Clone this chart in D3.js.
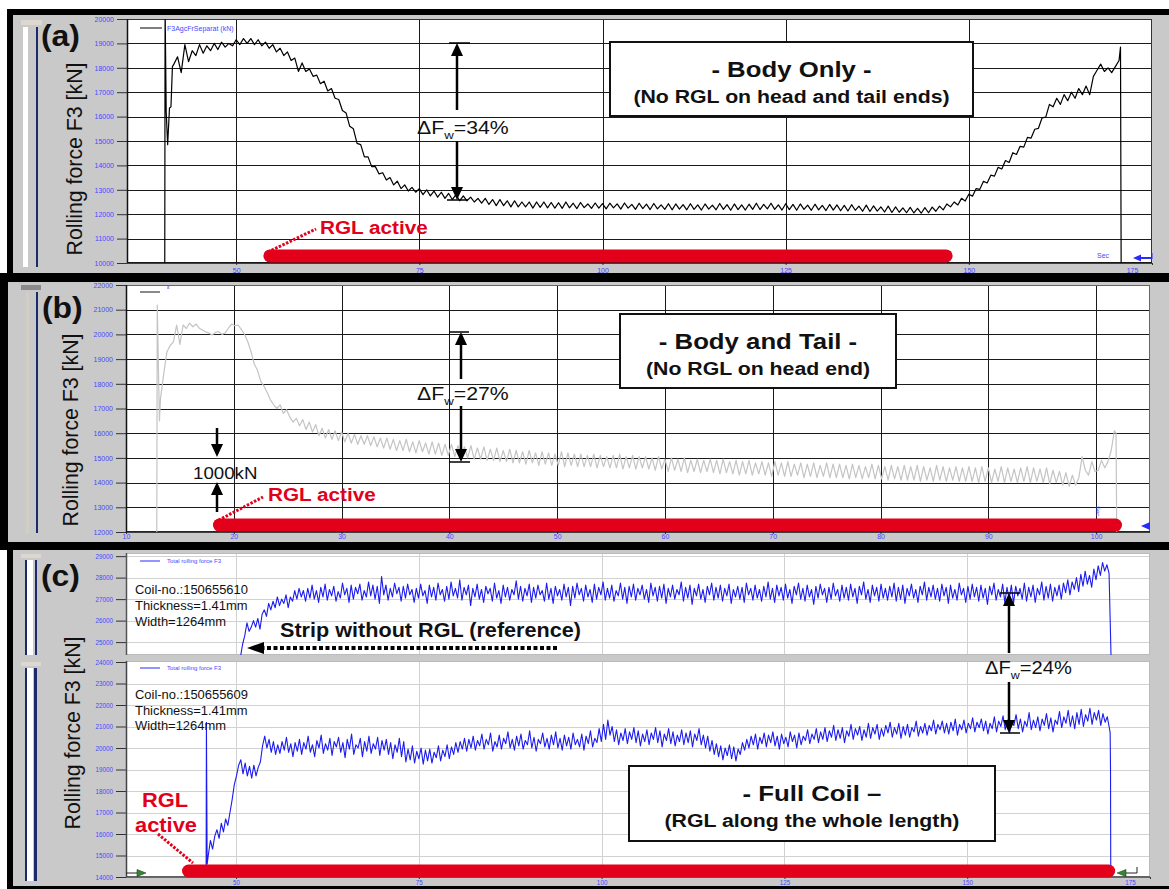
<!DOCTYPE html>
<html>
<head>
<meta charset="utf-8">
<title>Rolling force F3</title>
<script src="https://d3js.org/d3.v7.min.js"></script>
<style>
  body { margin: 0; background: #fff; }
  svg { display: block; }
  text { font-family: "Liberation Sans", Arial, Helvetica, sans-serif; }
</style>
</head>
<body>
<div id="fig"></div>
<script>
// ---------- data (time in s, force in kN) ----------

// (a) body only
const aHead = [[40.25, 9000], [40.3, 20500], [40.45, 16200], [40.65, 14850], [40.9, 16350], [41.1, 16400], [41.3, 18050]];
const aStart = 41.5, aStep = 0.5;
const aForce = [
  18150, 18450, 17800, 18950, 18250, 18700, 18500, 18950, 18600, 18900, 18700, 19000, 18750, 19050, 18850, 19000, 18900, 19150, 18950, 19200,
  19000, 19200, 18950, 19150, 18900, 19050, 18800, 18950, 18650, 18800, 18500, 18650, 18300, 18400, 17850, 18200, 17850, 17950, 17650, 17700,
  17350, 17450, 17050, 17150, 16750, 16700, 16250, 16150, 15600, 15500, 14900, 14850, 14350, 14350, 13950, 13950, 13650, 13700, 13400, 13500,
  13200, 13350, 13050, 13200, 12950, 13100, 12900, 13050, 12800, 13000, 12750, 12950, 12700, 12900, 12650, 12850, 12600, 12800, 12550, 12750,
  12550, 12700, 12500, 12650, 12450, 12650, 12400, 12600, 12350, 12600, 12350, 12550, 12300, 12550, 12300, 12500, 12300, 12500, 12250, 12500,
  12280, 12500, 12260, 12480, 12250, 12470, 12240, 12500, 12260, 12450, 12230, 12480, 12270, 12420, 12240, 12460, 12250, 12430, 12220, 12450,
  12260, 12420, 12210, 12460, 12250, 12400, 12200, 12450, 12230, 12410, 12190, 12440, 12220, 12380, 12200, 12430, 12180, 12420, 12210, 12390,
  12180, 12430, 12200, 12380, 12170, 12420, 12210, 12370, 12180, 12440, 12200, 12390, 12160, 12420, 12190, 12380, 12170, 12410, 12200, 12450,
  12190, 12400, 12220, 12450, 12200, 12380, 12170, 12430, 12190, 12400, 12160, 12420, 12200, 12370, 12160, 12410, 12180, 12360, 12150, 12400,
  12170, 12380, 12140, 12360, 12130, 12390, 12160, 12330, 12120, 12370, 12110, 12340, 12130, 12300, 12090, 12330, 12070, 12300, 12080, 12260,
  12060, 12280, 12050, 12240, 12040, 12270, 12060, 12290, 12120, 12330, 12180, 12420, 12300, 12500, 12380, 12650, 12540, 12820, 12740, 13050,
  13020, 13350, 13280, 13600, 13560, 13920, 13850, 14200, 14120, 14520, 14450, 14780, 14750, 15150, 15120, 15480, 15520, 15950, 15980, 16500,
  16400, 16750, 16500, 16900, 16650, 17000, 16750, 17150, 16900, 17250, 16900, 17650, 17900, 18150, 17850, 18000, 17800, 18050, 18300
];
const aTail = [[170.7, 18850], [170.8, 9000]];

// (b) body and tail
const bHead = [[12.85, 11000], [12.9, 21190], [13.1, 16500]];
const bStart = 13.2, bStep = 0.3;
const bForce = [
  17400, 18400, 19300, 19550, 19700, 20380, 19600, 20380, 20240, 20460,
  20310, 20420, 20250, 20180, 20100, 20050, 19980, 20080, 20110, 20000,
  20060, 20250, 20420, 20350, 20380, 20200, 20000, 19700, 19300, 18800,
  18550, 18100, 17900, 17650, 17350, 17150, 17000, 17150, 16800, 16950,
  16650, 16450, 16600, 16300, 16550, 16150, 16450, 16050, 16350, 15900,
  16200, 15800, 16150, 15750, 16100, 15700, 16050, 15650, 16000, 15600, 15950, 15550, 15900, 15550, 15900, 15500, 15850, 15450, 15800, 15400,
  15800, 15350, 15750, 15300, 15700, 15300, 15750, 15250, 15650, 15200, 15700, 15250, 15600, 15150, 15650, 15150, 15600, 15100, 15550, 15100,
  15550, 15050, 15500, 15050, 15450, 15000, 15500, 14950, 15400, 14950, 15450, 14900, 15350, 14900, 15400, 14850, 15300, 14850, 15350, 14800,
  15300, 14800, 15250, 14750, 15300, 14800, 15200, 14700, 15250, 14750, 15200, 14700, 15150, 14700, 15250, 14650, 15200, 14700, 15150, 14650,
  15150, 14650, 15100, 14650, 15150, 14600, 15100, 14650, 15050, 14600, 15100, 14600, 15150, 14550, 15050, 14600, 15100, 14550, 15050, 14600,
  15050, 14550, 15000, 14500, 15050, 14550, 14950, 14450, 15000, 14500, 14950, 14450, 15000, 14400, 14900, 14450, 14950, 14400, 14900, 14450,
  14950, 14400, 14900, 14350, 14950, 14400, 14850, 14350, 14900, 14300, 14850, 14350, 14900, 14300, 14800, 14350, 14850, 14300, 14800, 14250,
  14850, 14300, 14800, 14250, 14850, 14250, 14750, 14300, 14800, 14200, 14750, 14250, 14800, 14200, 14700, 14250, 14800, 14200, 14750, 14200,
  14750, 14200, 14700, 14150, 14750, 14200, 14700, 14150, 14650, 14200, 14750, 14150, 14700, 14150, 14650, 14100, 14700, 14150, 14650, 14100,
  14700, 14100, 14650, 14100, 14700, 14050, 14650, 14100, 14600, 14050, 14700, 14100, 14650, 14050, 14600, 14100, 14650, 14050, 14600, 14050,
  14650, 14050, 14600, 14000, 14650, 14050, 14600, 14000, 14550, 14050, 14650, 14000, 14600, 14050, 14550, 14000, 14600, 14050, 14650, 14000,
  14600, 14050, 14550, 14000, 14600, 13950, 14500, 14000, 14450, 13900, 14400, 13850, 14300, 13900, 14200,
  15050, 14500, 14300, 14850, 14450, 14500, 14900, 14600, 14850, 15300, 16100
];
const bTail = [[101.85, 16000], [101.93, 11000]];

// (c) upper: strip without RGL (coil 150655610)
const cTopStart = 50.6, cStep = 0.297;
const cTopForce = [
  24300, 24900, 25300, 25900, 25500, 25700, 26000, 25700, 26100, 25600, 26300, 26500, 26200, 26800, 26500, 26900, 26600, 27100, 26700, 27000,
  26800, 27200, 26600, 27100, 26900, 27400, 27000, 27500, 27100, 27400, 26900, 27500, 27050, 27650, 27000, 27400, 26850, 27550, 27100, 27700,
  26950, 27450, 27150, 27600, 26900, 27350, 27050, 27750, 27200, 27500, 26850, 27650, 27000, 27550, 27250, 27700, 26950, 27400, 27100, 27800,
  27150, 27650, 27000, 27600, 26800, 28050, 27200, 27650, 26950, 27500, 27100, 27750, 27250, 27550, 26900, 27600, 27050, 27700, 27200, 27450,
  26850, 27500, 27050, 27700, 27150, 27400, 26800, 27650, 27100, 27550, 26950, 27750, 27200, 27450, 26900, 27600, 27000, 27800, 27150, 27500,
  27050, 27900, 26950, 27550, 27200, 27650, 26700, 27500, 27100, 27700, 27000, 27450, 26850, 27600, 27250, 27500, 26900, 27750, 27050, 27400,
  26800, 27650, 27100, 27550, 26950, 27450, 27200, 27850, 27000, 27600, 26900, 27500, 27150, 27700, 26850, 27550, 27050, 27650, 27200, 27400,
  26900, 27750, 27000, 27500, 26800, 27600, 27150, 27450, 26950, 27700, 27100, 27550, 26700, 27600, 27050, 27750, 27200, 27500, 26900, 27650,
  27100, 27450, 26850, 27700, 27000, 27550, 27200, 27800, 26950, 27500, 27050, 27650, 26900, 27400, 27150, 27750, 27000, 27550, 26800, 27600,
  27100, 27700, 26950, 27500, 27200, 27650, 27000, 27450, 26850, 27750, 27150, 27550, 26900, 27600, 27050, 27700, 26800, 27500, 27100, 27650,
  27000, 27450, 27200, 27800, 26900, 27550, 27050, 27650, 26750, 27500, 27150, 27700, 27000, 27450, 26850, 27600, 27200, 27750, 26950, 27550,
  27050, 27650, 26900, 27500, 27150, 27700, 26800, 27450, 27100, 27600, 27000, 27550, 26850, 27750, 27200, 27500, 26950, 27650, 27050, 27450,
  26900, 27600, 27100, 27800, 27000, 27500, 26850, 27650, 27150, 27550, 26950, 27700, 27050, 27450, 26800, 27600, 27200, 27750, 27000, 27500,
  26900, 27650, 27100, 27450, 26750, 27600, 27050, 27700, 27200, 27500, 26850, 27550, 27000, 27750, 27150, 27450, 26900, 27650, 27050, 27550,
  26950, 27700, 27100, 27500, 26800, 27600, 27200, 27800, 27000, 27450, 26850, 27650, 27150, 27550, 26900, 27700, 27050, 27500, 26950, 27600,
  27100, 27750, 26900, 27550, 27000, 27650, 26800, 27500, 27150, 27700, 27050, 27450, 26850, 27600, 27200, 27800, 26950, 27550, 27100, 27650,
  27000, 27500, 26900, 27700, 27150, 27550, 26800, 27650, 27050, 27450, 26950, 27750, 27200, 27500, 26850, 27600, 27000, 27700, 27100, 27550,
  26900, 27650, 27050, 27500, 26750, 27600, 27200, 27750, 26950, 27450, 27100, 27700, 26850, 27550, 27000, 27650, 26800, 27600, 27150, 27500,
  27000, 27750, 26900, 27550, 27100, 27650, 26850, 27500, 27200, 27800, 26950, 27600, 27050, 27700, 26900, 27550, 27150, 27650, 27000, 27750,
  27300, 27900, 27200, 27800, 27450, 28000, 27350, 28150, 27600, 28300, 27700, 28100, 27550, 28400, 27900, 28550, 28100, 28700, 28300, 28600, 28200, 24000
];

// (c) lower: full coil with RGL (coil 150655609)
const cBotHead = [[45.9, 13000], [45.95, 21200], [46.05, 14600]];
const cBotStart = 46.2;
const cBotForce = [
  15000, 15700, 15300, 15900, 16200, 15800, 16500, 16100, 16700, 16400,
  17000, 17600, 18300, 18700, 19200, 19450, 18800, 19300, 18700, 19150,
  18600, 19200, 18700, 19100, 19350, 20100, 20550, 20000, 20400, 19800,
  20300, 19700, 20150, 19750, 20300, 19900, 20500, 19800, 20200, 19600,
  20250,
  19850, 20400, 19700, 20250, 19950, 20550, 19800, 20150, 19600, 20350, 20000, 20600, 19750, 20200, 19900, 20450, 19650, 20300, 20050, 20500,
  19800, 20250, 19550, 20400, 19950, 20650, 19700, 20150, 20000, 20450, 19600, 20300, 19850, 20550, 19750, 20200, 19950, 20500, 19650, 20350,
  19900, 20400, 19700, 20250, 19500, 20150, 19800, 20450, 19600, 20300, 19350, 19950, 19450, 20100, 19300, 19850, 19500, 20000, 19250, 19900,
  19400, 19950, 19300, 19800, 19550, 20100, 19400, 19900, 19600, 20150, 19500, 20050, 19700, 20250, 19800, 20300, 19950, 20450, 19850, 20400,
  20000, 20550, 19900, 20350, 20100, 20650, 19950, 20400, 20150, 20700, 19850, 20300, 20050, 20600, 19950, 20450, 20200, 20750, 20000, 20400,
  19900, 20550, 20100, 20650, 19950, 20350, 20150, 20800, 20000, 20500, 19850, 20400, 20200, 20700, 20050, 20450, 19950, 20600, 20150, 20750,
  20000, 20450, 19900, 20600, 20100, 20500, 19950, 20700, 20150, 20400, 20050, 20650, 19900, 20550, 20200, 20800, 20050, 20450, 20250, 20900,
  20300, 21100, 20400, 21300, 20600, 21000, 20300, 20850, 20150, 20700, 20350, 20900, 20200, 20750, 20400, 20950, 20250, 20800, 20100, 20650,
  20300, 20850, 20150, 20700, 20400, 20950, 20250, 20800, 20050, 20650, 20350, 20900, 20200, 20750, 20100, 20600, 20300, 20850, 20150, 20700,
  20250, 20800, 20050, 20650, 20350, 20900, 20150, 20600, 20000, 20550, 19850, 20350, 19700, 20200, 19600, 20100, 19450, 20000, 19650, 20150,
  19500, 20050, 19400, 19950, 19700, 20250, 19900, 20400, 20000, 20550, 20150, 20650, 19950, 20500, 20200, 20700, 20050, 20600, 20250, 20750,
  20100, 20550, 19950, 20650, 20200, 20500, 20050, 20750, 20300, 20600, 20000, 20700, 20150, 20550, 20350, 20850, 20200, 20650, 20400, 20900,
  20250, 20750, 20400, 20950, 20300, 20800, 20500, 21050, 20350, 20850, 20450, 20950, 20250, 20800, 20550, 21100, 20400, 20900, 20600, 21000,
  20350, 20850, 20500, 21150, 20450, 20950, 20650, 21100, 20400, 20900, 20550, 21050, 20700, 21200, 20500, 20950, 20650, 21150, 20450, 21000,
  20600, 21100, 20500, 20950, 20750, 21250, 20550, 21000, 20700, 21150, 20600, 21050, 20800, 21300, 20650, 21100, 20850, 21250, 20700, 21150,
  20650, 21200, 20800, 21350, 20600, 21100, 20850, 21300, 20700, 21150, 20900, 21400, 20750, 21200, 20950, 21350, 20800, 21250, 20650, 21150,
  20900, 21450, 20750, 21250, 21000, 21500, 20850, 21300, 20700, 21200, 21050, 21550, 20900, 21350, 20750, 21250, 21000, 21650, 20850, 21300,
  20950, 21450, 20800, 21350, 21050, 21600, 20900, 21400, 20750, 21300, 21100, 21700, 20950, 21450, 21150, 21750, 21000, 21500, 20900, 21650,
  21100, 21800, 21000, 21550, 21250, 21850, 21100, 21650, 21300, 21750, 21050, 21600, 21200, 21450, 20900
];
const cBotTail = [[169.55, 20700], [169.6, 19000], [169.65, 12000]];

// RGL active ranges [start s, end s, force level]
const rglA = [54.6, 146.9, 10290];
const rglB = [18.67, 101.8, 12280];
const rglC = [43.5, 169.35, 14280];

const deltaFw = [34, 27, 24];

// ticks
const aXTicks = [50, 75, 100, 125, 150, 175];
const aYTicks = [10000, 11000, 12000, 13000, 14000, 15000, 16000, 17000, 18000, 19000, 20000];
const bXTicks = [10, 20, 30, 40, 50, 60, 70, 80, 90, 100];
const bYTicks = [12000, 13000, 14000, 15000, 16000, 17000, 18000, 19000, 20000, 21000, 22000];
const cXTicks = [50, 75, 100, 125, 150, 175];
const cTopYTicks = [25000, 26000, 27000, 28000, 29000];
const cBotYTicks = [14000, 15000, 16000, 17000, 18000, 19000, 20000, 21000, 22000, 23000, 24000];

// ---------- drawing ----------
let svgWidth = 1169;
let svgHeight = 889;

let svg = d3.select("#fig").append("svg")
    .attr("width", svgWidth)
    .attr("height", svgHeight);
let defs = svg.append("defs");

const tickBlue = "#4848ff";
const red = "#e2001a";
const gray = "#c9c9c9";

// frames
svg.append("rect").attr("x", 7).attr("y", 9).attr("width", 1162).attr("height", 880).attr("fill", "#000");
svg.append("rect").attr("x", 0).attr("y", 273).attr("width", 8).attr("height", 277).attr("fill", "#000");
[[13, 15, 1156, 258], [8, 282, 1161, 260], [13, 550, 1156, 336]].forEach(r => {
    svg.append("rect").attr("x", r[0]).attr("y", r[1]).attr("width", r[2]).attr("height", r[3]).attr("fill", gray);
});

// left side window decorations
[
    [21, 20, 21, 5, "#dcd8cf"], [23, 27, 5, 240, "#fff"], [36, 27, 2, 240, "#1b2a6b"],
    [21, 285, 20, 5, "#8a8a8a"], [26, 292, 3, 241, "#d2cec6"], [36, 292, 2, 241, "#1b2a6b"],
    [21, 554, 20, 4, "#dcd8cf"], [25, 560, 2, 95, "#1b2a6b"], [27, 560, 6, 95, "#fff"], [35, 560, 2, 95, "#1b2a6b"],
    [21, 662, 20, 4, "#dcd8cf"], [25, 668, 2, 213, "#1b2a6b"], [27, 668, 6, 213, "#fff"], [34, 668, 3, 213, "#1b2a6b"]
].forEach(r => {
    svg.append("rect").attr("x", r[0]).attr("y", r[1]).attr("width", r[2]).attr("height", r[3]).attr("fill", r[4]);
});

function makePanel(o) {
    let x = d3.scaleLinear().domain(o.xDomain).range([o.x0, o.x1]);
    let y = d3.scaleLinear().domain(o.yDomain).range(o.yRange);
    let g = svg.append("g");

    g.append("rect").attr("x", o.x0).attr("y", o.y0)
        .attr("width", o.x1 - o.x0).attr("height", o.y1 - o.y0).attr("fill", "#fff");
    defs.append("clipPath").attr("id", o.id).append("rect")
        .attr("x", o.x0).attr("y", o.y0).attr("width", o.x1 - o.x0).attr("height", o.y1 - o.y0);

    // grid
    g.append("g").selectAll("line")
        .data(o.yTicks.filter(v => y(v) > o.y0 + 1 && y(v) < o.y1 - 1))
        .enter().append("line")
        .attr("x1", o.x0).attr("x2", o.x1)
        .attr("y1", d => Math.round(y(d)) + 0.5).attr("y2", d => Math.round(y(d)) + 0.5)
        .attr("stroke", o.grid).attr("stroke-width", 1);
    g.append("g").selectAll("line")
        .data(o.xTicks.filter(v => x(v) > o.x0 + 1 && x(v) < o.x1 - 1))
        .enter().append("line")
        .attr("y1", o.y0).attr("y2", o.y1)
        .attr("x1", d => Math.round(x(d)) + 0.5).attr("x2", d => Math.round(x(d)) + 0.5)
        .attr("stroke", o.grid).attr("stroke-width", 1);

    // y axis
    let ya = g.append("g")
        .attr("transform", `translate(${o.x0},0)`)
        .call(d3.axisLeft(y).tickValues(o.yTicks).tickSize(10).tickPadding(3).tickFormat(d3.format("d")));
    ya.select(".domain").remove();
    ya.selectAll("line").attr("stroke", "#333");
    ya.selectAll("text").attr("fill", tickBlue).attr("font-size", o.tickFont);

    // x axis
    if (o.showX) {
        let xa = g.append("g")
            .attr("transform", `translate(0,${o.y1})`)
            .call(d3.axisBottom(x).tickValues(o.xTicks).tickSize(2).tickPadding(o.xPad));
        xa.select(".domain").remove();
        xa.selectAll("line").attr("stroke", "#333");
        xa.selectAll("text").attr("fill", tickBlue).attr("font-size", o.tickFont);
        xa.selectAll(".tick").filter(d => d === 175).select("text").attr("x", -20);
    }

    // border
    g.append("rect").attr("x", o.x0 + 0.5).attr("y", o.y0 + 0.5)
        .attr("width", o.x1 - o.x0 - 1).attr("height", o.y1 - o.y0 - 1)
        .attr("fill", "none").attr("stroke", o.border).attr("stroke-width", 1);
    g.append("line").attr("x1", o.x0 + 0.5).attr("x2", o.x0 + 0.5).attr("y1", o.y0).attr("y2", o.y1)
        .attr("stroke", o.axisColor).attr("stroke-width", 1.5);
    if (o.showX) {
        g.append("line").attr("x1", o.x0).attr("x2", o.x1).attr("y1", o.y1).attr("y2", o.y1)
            .attr("stroke", o.axisColor).attr("stroke-width", 1.5);
    }
    return {x: x, y: y, g: g, id: o.id};
}

function series(head, start, step, vals, tail) {
    return head.concat(vals.map((v, i) => [start + i * step, v]), tail);
}

function drawLine(p, pts, color, width) {
    p.g.append("path")
        .datum(pts)
        .attr("clip-path", `url(#${p.id})`)
        .attr("fill", "none")
        .attr("stroke", color)
        .attr("stroke-width", width)
        .attr("stroke-linejoin", "round")
        .attr("d", d3.line().x(d => p.x(d[0])).y(d => p.y(d[1])));
}

function drawRgl(p, r) {
    p.g.append("line")
        .attr("x1", p.x(r[0])).attr("x2", p.x(r[1]))
        .attr("y1", p.y(r[2])).attr("y2", p.y(r[2]))
        .attr("stroke", red).attr("stroke-width", 13).attr("stroke-linecap", "round");
}

function note(g, x, y, str, size, opt) {
    opt = opt || {};
    let t = g.append("text")
        .attr("transform", `translate(${x},${y}) scale(${opt.sx || 1.12},1)`)
        .attr("font-size", size)
        .attr("font-weight", opt.bold ? "bold" : "normal")
        .attr("fill", opt.color || "#111")
        .attr("text-anchor", opt.anchor || "start");
    if (str) t.text(str);
    return t;
}

function dfText(g, x, y, pct, size) {
    let t = note(g, x, y, "", size);
    t.append("tspan").text("ΔF");
    t.append("tspan").attr("font-size", size * 0.62).attr("dy", size * 0.28).text("w");
    t.append("tspan").attr("dy", -size * 0.28).text("=" + pct + "%");
}

function arrowV(g, x, yFrom, yTip) {
    let dir = yTip > yFrom ? 1 : -1;
    let hl = 13, hw = 6;
    g.append("line").attr("x1", x).attr("x2", x).attr("y1", yFrom).attr("y2", yTip - dir * hl)
        .attr("stroke", "#000").attr("stroke-width", 2.5);
    g.append("path").attr("d", `M${x},${yTip}L${x - hw},${yTip - dir * hl}L${x + hw},${yTip - dir * hl}Z`)
        .attr("fill", "#000");
}

function cap(g, x1, x2, y) {
    g.append("line").attr("x1", x1).attr("x2", x2).attr("y1", y).attr("y2", y)
        .attr("stroke", "#000").attr("stroke-width", 1.5);
}

function box(g, x, y, w, h, title, sub) {
    g.append("rect").attr("x", x).attr("y", y).attr("width", w).attr("height", h)
        .attr("fill", "#fff").attr("stroke", "#111").attr("stroke-width", 2);
    note(g, x + w / 2, y + 35, title, 23, {bold: true, anchor: "middle"});
    note(g, x + w / 2, y + 61, sub, 19, {bold: true, anchor: "middle"});
}

function redDots(g, x1, y1, x2, y2) {
    g.append("line").attr("x1", x1).attr("y1", y1).attr("x2", x2).attr("y2", y2)
        .attr("stroke", red).attr("stroke-width", 3).attr("stroke-dasharray", "2.5,1.5");
}

function yTitle(x, y) {
    svg.append("text").attr("transform", `translate(${x},${y}) rotate(-90)`)
        .attr("text-anchor", "middle").attr("font-size", 21.3).attr("fill", "#111")
        .text("Rolling force F3 [kN]");
}

// ----- panel (a) -----
let pa = makePanel({
    id: "clipA", x0: 127, x1: 1152, y0: 19, y1: 263,
    xDomain: [35.1, 175], yDomain: [10000, 20000], yRange: [263, 19],
    xTicks: aXTicks, yTicks: aYTicks, grid: "#1a1a1a", border: "#333", axisColor: "#111",
    tickFont: 7, showX: true, xPad: 3
});
drawLine(pa, series(aHead, aStart, aStep, aForce, aTail), "#000", 1.2);
pa.g.append("line").attr("x1", 140).attr("x2", 162).attr("y1", 28).attr("y2", 28).attr("stroke", "#000");
pa.g.append("text").attr("x", 167).attr("y", 30.5).attr("font-size", 7).attr("fill", tickBlue).text("F3AgcFrSeparat (kN)");
box(pa.g, 610, 42, 363, 74, "- Body Only -", "(No RGL on head and tail ends)");
cap(pa.g, 449, 470, 43);
arrowV(pa.g, 457, 110, 43);
dfText(pa.g, 417, 134, deltaFw[0], 19);
arrowV(pa.g, 457, 141, 200);
cap(pa.g, 447, 468, 200);
drawRgl(pa, rglA);
redDots(pa.g, 268, 252, 316, 229);
note(pa.g, 320, 234, "RGL active", 18.5, {bold: true, color: red});
pa.g.append("text").attr("x", 1097).attr("y", 258).attr("font-size", 7).attr("fill", tickBlue).text("Sec");
pa.g.append("line").attr("x1", 1139).attr("x2", 1152).attr("y1", 258).attr("y2", 258).attr("stroke", "#2a2aff").attr("stroke-width", 2);
pa.g.append("path").attr("d", "M1133,258L1141,254.5L1141,261.5Z").attr("fill", "#2a2aff");
pa.g.append("line").attr("x1", 1152).attr("x2", 1152).attr("y1", 253).attr("y2", 259).attr("stroke", "#2a2aff");
note(svg, 41, 46, "(a)", 29, {bold: true, sx: 1.1});
yTitle(82, 159);

// ----- panel (b) -----
let pb = makePanel({
    id: "clipB", x0: 126, x1: 1150, y0: 285, y1: 532,
    xDomain: [10, 105], yDomain: [12000, 22000], yRange: [532, 285],
    xTicks: bXTicks, yTicks: bYTicks, grid: "#1a1a1a", border: "#666", axisColor: "#111",
    tickFont: 7, showX: true, xPad: 0
});
drawLine(pb, series(bHead, bStart, bStep, bForce, bTail), "#c4c4c4", 1.2);
pb.g.append("line").attr("x1", 140).attr("x2", 160).attr("y1", 292).attr("y2", 292).attr("stroke", "#8a8a8a").attr("stroke-width", 2);
pb.g.append("text").attr("x", 167).attr("y", 289).attr("font-size", 6).attr("fill", tickBlue).text("ε");
box(pb.g, 620, 314, 276, 74, "- Body and Tail -", "(No RGL on head end)");
cap(pb.g, 449, 469, 332);
arrowV(pb.g, 461, 379, 332);
dfText(pb.g, 417, 400, deltaFw[1], 19);
arrowV(pb.g, 461, 406, 462);
cap(pb.g, 449, 470, 462);
arrowV(pb.g, 217, 428, 457);
arrowV(pb.g, 217, 512, 482);
note(pb.g, 193, 479, "1000kN", 17, {sx: 1.1});
drawRgl(pb, rglB);
redDots(pb.g, 215, 522, 263, 497);
note(pb.g, 268, 501, "RGL active", 18.5, {bold: true, color: red});
pb.g.append("text").attr("transform", "translate(1096,506) rotate(90)").attr("font-size", 6).attr("fill", tickBlue).text("Sec");
pb.g.append("path").attr("d", "M1141,526L1150,522L1150,530Z").attr("fill", "#2a2aff");
note(svg, 42, 318, "(b)", 29, {bold: true, sx: 1.1});
yTitle(78, 430);

// ----- panel (c) -----
let pct = makePanel({
    id: "clipCT", x0: 126, x1: 1150, y0: 553, y1: 655,
    xDomain: [34.95, 175], yDomain: [24400, 29100], yRange: [655, 554],
    xTicks: cXTicks, yTicks: cTopYTicks, grid: "#d2d2d2", border: "#bbb", axisColor: "#555",
    tickFont: 6.3, showX: false
});
let pcb = makePanel({
    id: "clipCB", x0: 126, x1: 1150, y0: 661, y1: 877,
    xDomain: [34.95, 175], yDomain: [14000, 24000], yRange: [877, 662],
    xTicks: cXTicks, yTicks: cBotYTicks, grid: "#d2d2d2", border: "#bbb", axisColor: "#444",
    tickFont: 6.3, showX: true, xPad: 2
});
drawLine(pct, series([], cTopStart, cStep, cTopForce, []), "#1c1cf0", 1.1);
drawLine(pcb, series(cBotHead, cBotStart, cStep, cBotForce, cBotTail), "#1c1cf0", 1.1);

[[561, pct], [668, pcb]].forEach(l => {
    l[1].g.append("line").attr("x1", 140).attr("x2", 160).attr("y1", l[0]).attr("y2", l[0]).attr("stroke", "#2a2aff");
    l[1].g.append("text").attr("x", 167).attr("y", l[0] + 2).attr("font-size", 6).attr("fill", tickBlue).text("Total rolling force F3");
});
[["Coil-no.:150655610", 594], ["Thickness=1.41mm", 610], ["Width=1264mm", 626]].forEach(t => {
    note(pct.g, 135, t[1], t[0], 12, {sx: 1.08});
});
[["Coil-no.:150655609", 699], ["Thickness=1.41mm", 715], ["Width=1264mm", 730]].forEach(t => {
    note(pcb.g, 135, t[1], t[0], 12, {sx: 1.08});
});

note(svg, 280, 637, "Strip without RGL (reference)", 19.3, {bold: true});
svg.append("line").attr("x1", 557).attr("x2", 262).attr("y1", 648).attr("y2", 648)
    .attr("stroke", "#000").attr("stroke-width", 4).attr("stroke-dasharray", "4,2.5");
svg.append("path").attr("d", "M247,648L264,642L264,654Z").attr("fill", "#000");

cap(svg, 1000, 1020, 593);
arrowV(svg, 1009, 653, 593);
dfText(svg, 985, 674, deltaFw[2], 18);
arrowV(svg, 1009, 682, 733);
cap(svg, 1000, 1020, 733);

box(pcb.g, 629, 766, 366, 75, "- Full Coil –", "(RGL along the whole length)");
drawRgl(pcb, rglC);
redDots(pcb.g, 158, 834, 193, 863);
note(pcb.g, 165, 807, "RGL", 19.5, {bold: true, color: red, anchor: "middle"});
note(pcb.g, 166, 832, "active", 19.5, {bold: true, color: red, anchor: "middle"});

// small cursor arrows
pcb.g.append("line").attr("x1", 126).attr("x2", 140).attr("y1", 873).attr("y2", 873).attr("stroke", "#222");
pcb.g.append("path").attr("d", "M146,873L137,869.5L137,876.5Z").attr("fill", "#2e8b2e").attr("stroke", "#222").attr("stroke-width", 0.5);
pcb.g.append("line").attr("x1", 1122).attr("x2", 1137).attr("y1", 873).attr("y2", 873).attr("stroke", "#222");
pcb.g.append("line").attr("x1", 1137).attr("x2", 1137).attr("y1", 867).attr("y2", 873).attr("stroke", "#222");
pcb.g.append("path").attr("d", "M1117,873L1126,869.5L1126,876.5Z").attr("fill", "#2e8b2e").attr("stroke", "#222").attr("stroke-width", 0.5);

note(svg, 41, 586, "(c)", 29, {bold: true, sx: 1.1});
yTitle(80, 733);
</script>
</body>
</html>
